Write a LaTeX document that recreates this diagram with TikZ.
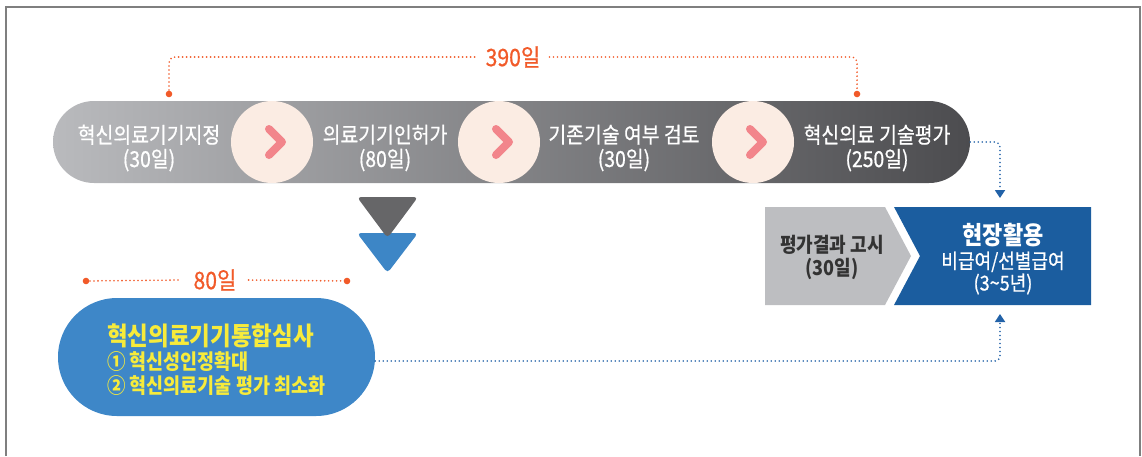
\documentclass[tikz,border=0pt]{standalone}
\usepackage{fontspec}
\setmainfont[FakeStretch=0.88]{Noto Sans CJK KR}
\newfontfamily\krm[FakeStretch=0.88, FakeBold=0.7]{Noto Sans CJK KR}
\usetikzlibrary{arrows.meta}
\definecolor{orangeC}{HTML}{F15A29}
\definecolor{pinkC}{HTML}{F2858B}
\definecolor{peachC}{HTML}{FBECE3}
\definecolor{barL}{HTML}{B9BABD}
\definecolor{barM}{HTML}{808185}
\definecolor{barR}{HTML}{4C4C4F}
\definecolor{triGray}{HTML}{666668}
\definecolor{triBlue}{HTML}{3D86C6}
\definecolor{pillBlue}{HTML}{3E87C8}
\definecolor{yellowT}{HTML}{F7EB3B}
\definecolor{grayBox}{HTML}{BDBEC1}
\definecolor{blueBox}{HTML}{1B5D9F}
\definecolor{dotBlue}{HTML}{2262A8}
\definecolor{frameC}{HTML}{7F7F7F}
\definecolor{darkT}{HTML}{333333}
\tikzset{
  circ/.style={circle, fill=peachC, minimum size=82pt, inner sep=0pt},
  chev/.style={pinkC, line width=8pt, line cap=round, line join=round},
  stagetxt/.style={text=white, align=center, font=\krm\fontsize{22}{24}\selectfont},
  odot/.style={orangeC, line width=1.8pt, dash pattern=on 0pt off 4pt, line cap=round},
  bdot/.style={dotBlue, line width=1.8pt, dash pattern=on 0pt off 4pt, line cap=round},
  ltxt/.style={text=orangeC, font=\krm\fontsize{24}{26}\selectfont, inner ysep=0pt},
  tip/.style={-{Triangle[width=10pt,length=8pt]}}
}
\begin{document}
\begin{tikzpicture}[x=1pt,y=-1pt]
\useasboundingbox (0,0) rectangle (1142,456);
% frame
\draw[frameC, line width=1.5pt] (6,456) -- (6,7) -- (1140,7) -- (1140,456);
% top bar
\node (bar) [minimum width=917pt, minimum height=82pt, inner sep=0pt, rounded corners=41pt,
  left color=barL, middle color=barM, right color=barR] at (511.5,142) {};
\node (c1) [circ] at (272,142) {};
\node (c2) [circ] at (499,142) {};
\node (c3) [circ] at (753,142) {};
\foreach \c in {c1,c2,c3}{
  \draw[chev] ([xshift=-3pt,yshift=13pt]\c.center) -- ([xshift=10pt]\c.center) -- ([xshift=-3pt,yshift=-13pt]\c.center);
}
\node (s1) [stagetxt] at (149,148) {혁신의료기기지정\\(30일)};
\node (s2) [stagetxt] at (385,148) {의료기기인허가\\(80일)};
\node (s3) [stagetxt] at (624,148) {기존기술 여부 검토\\(30일)};
\node (s4) [stagetxt] at (877,148) {혁신의료 기술평가\\(250일)};
% 390 bracket
\coordinate (o1) at (169,94);
\coordinate (o2) at (857,94);
\node (L390) [ltxt, inner xsep=9pt] at (513,57) {390일};
\draw[odot, rounded corners=6pt] (o1) |- (L390.west);
\draw[odot, rounded corners=6pt] (L390.east) -| (o2);
\fill[orangeC] (o1) circle (3.3pt);
\fill[orangeC] (o2) circle (3.3pt);
% triangles
\fill[triBlue, rounded corners=4pt] (357,233) -- (418,233) -- (387.5,273) -- cycle;
\fill[triGray, rounded corners=4pt] (357,197) -- (418,197) -- (387.5,238) -- cycle;
% 80 label
\coordinate (e1) at (86,281);
\coordinate (e2) at (347,281);
\node (L80) [ltxt, inner xsep=12pt] at (215,280) {80일};
\draw[odot] (e1) -- (L80.west);
\draw[odot] (L80.east) -- (e2);
\fill[orangeC] (e1) circle (3.3pt);
\fill[orangeC] (e2) circle (3.3pt);
% blue pill
\node (ip) [minimum width=317pt, minimum height=118pt, inner sep=0pt, rounded corners=59pt, fill=pillBlue] at (216.5,357) {};
\node (ipT) [anchor=base west, text=yellowT, inner sep=0pt, font=\bfseries\fontsize{25.5}{28}\selectfont] at (107,345) {혁신의료기기통합심사};
\node (ip1) [anchor=base west, text=yellowT, inner sep=0pt, font=\bfseries\fontsize{21}{23}\selectfont] at (107,369) {① 혁신성인정확대};
\node (ip2) [anchor=base west, text=yellowT, inner sep=0pt, font=\bfseries\fontsize{21}{23}\selectfont] at (107,393) {② 혁신의료기술 평가 최소화};
% result boxes
\fill[grayBox] (765,207) -- (885,207) -- (911,256) -- (885,305) -- (765,305) -- cycle;
\fill[blueBox] (894,207) -- (1091,207) -- (1091,305) -- (894,305) -- (920,256) -- cycle;
\node (gb) [text=darkT, align=center, font=\bfseries\fontsize{20.5}{23}\selectfont] at (832,257) {평가결과 고시\\(30일)};
\node (bbT) [text=white, font=\bfseries\fontsize{25}{28}\selectfont] at (1003,235) {현장활용};
\node (bbS) [text=white, align=center, font=\krm\fontsize{20.5}{22}\selectfont] at (1003,273) {비급여/선별급여\\(3\textasciitilde5년)};
\coordinate (bbTop) at (1000,198);
\coordinate (bbBot) at (1000,314);
% connectors
\draw[bdot, tip, rounded corners=5pt] (bar.east) -| (bbTop);
\draw[bdot, tip, rounded corners=5pt] ([yshift=-4pt]ip.east) -| (bbBot);
\end{tikzpicture}
\end{document}
